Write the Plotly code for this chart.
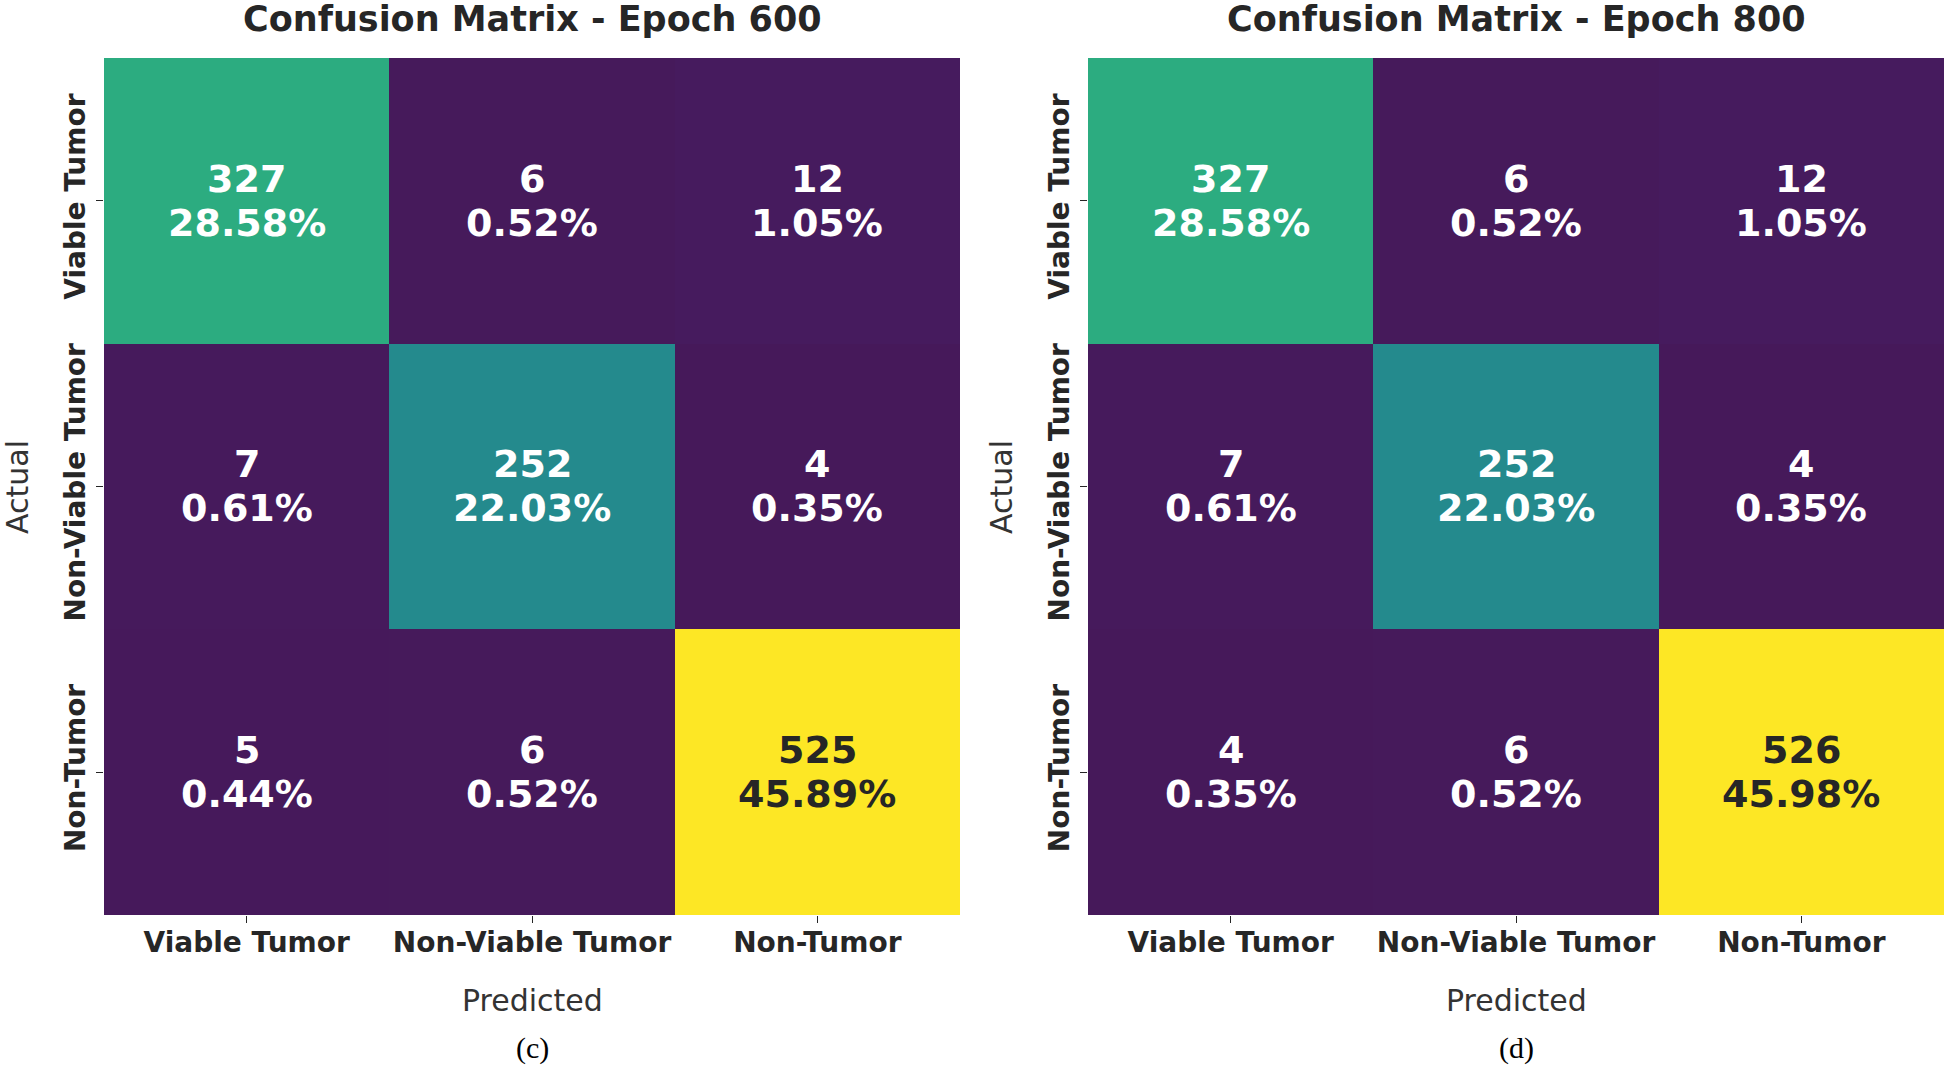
import plotly.graph_objects as go

classes = ["Viable Tumor", "Non-Viable Tumor", "Non-Tumor"]
cm_600 = [[327, 6, 12],
          [7, 252, 4],
          [5, 6, 525]]
cm_800 = [[327, 6, 12],
          [7, 252, 4],
          [4, 6, 526]]
titles = ["Confusion Matrix - Epoch 600", "Confusion Matrix - Epoch 800"]
panel_labels = ["(c)", "(d)"]

W, H = 1945, 1072
x_domains = [(104 / W, 960 / W), (1088 / W, 1944 / W)]
y_domain = (1 - 915 / H, 1 - 58 / H)

viridis = ["#46195a", "#482878", "#3e4989", "#31688e", "#26828e",
           "#1f9e89", "#35b779", "#6ece58", "#b5de2b", "#fde725"]
cscale = [[i / (len(viridis) - 1), c] for i, c in enumerate(viridis)]

DARK = "#262626"
fig = go.Figure()
annotations = []

for k, cm in enumerate([cm_600, cm_800]):
    xa = "x" if k == 0 else "x2"
    ya = "y" if k == 0 else "y2"
    flat = [v for row in cm for v in row]
    total = sum(flat)
    vmin, vmax = min(flat), max(flat)
    fig.add_trace(go.Heatmap(
        z=cm, x=classes, y=classes, xaxis=xa, yaxis=ya,
        colorscale=cscale, zmin=vmin, zmax=vmax, showscale=False,
        hoverinfo="skip"))
    for i, row in enumerate(cm):
        for j, v in enumerate(row):
            frac = (v - vmin) / (vmax - vmin)
            col = DARK if frac > 0.8 else "white"
            for txt, shift in ((str(v), 22), (f"{100 * v / total:.2f}%", -22)):
                annotations.append(dict(
                    x=classes[j], y=classes[i], xref=xa, yref=ya,
                    text=txt, showarrow=False, yshift=shift,
                    xanchor="center", yanchor="middle",
                    font=dict(family="DejaVu Sans", size=38, color=col,
                              weight="bold")))
    cx = (x_domains[k][0] + x_domains[k][1]) / 2
    common = dict(xref="paper", yref="paper", showarrow=False,
                  xanchor="center", yanchor="middle")
    annotations.append(dict(x=cx, y=1 - 19 / H, text="<b>" + titles[k] + "</b>",
                            font=dict(family="DejaVu Sans", size=35, color=DARK),
                            **common))
    annotations.append(dict(x=cx, y=1 - 1000 / H, text="Predicted",
                            font=dict(family="DejaVu Sans", size=30, color="#333333"),
                            **common))
    annotations.append(dict(x=cx, y=1 - 1048 / H, text=panel_labels[k],
                            font=dict(family="Liberation Serif", size=30, color="black"),
                            **common))
    ax_x = (17 if k == 0 else 1001) / W
    annotations.append(dict(x=ax_x, y=1 - 487 / H, text="Actual", textangle=-90,
                            font=dict(family="DejaVu Sans", size=30, color="#333333"),
                            **common))

axis_common = dict(showgrid=False, zeroline=False, showline=False,
                   automargin=False,
                   ticks="outside", ticklen=7, tickwidth=1, tickcolor=DARK,
                   tickfont=dict(family="DejaVu Sans", size=28, color=DARK,
                                 weight="bold"))

fig.update_layout(
    width=W, height=H,
    margin=dict(l=0, r=0, t=0, b=0),
    paper_bgcolor="white", plot_bgcolor="white",
    showlegend=False,
    annotations=annotations,
    xaxis=dict(domain=x_domains[0], anchor="y", ticklabelstandoff=-5, **axis_common),
    yaxis=dict(domain=y_domain, anchor="x", autorange="reversed",
               tickangle=-90, **axis_common),
    xaxis2=dict(domain=x_domains[1], anchor="y2", ticklabelstandoff=-5, **axis_common),
    yaxis2=dict(domain=y_domain, anchor="x2", autorange="reversed",
                tickangle=-90, **axis_common),
)

fig.write_html("out.html",
               config={"displayModeBar": False},
               post_script="document.body.style.margin='0px';"
                           "document.body.style.overflow='hidden';")
